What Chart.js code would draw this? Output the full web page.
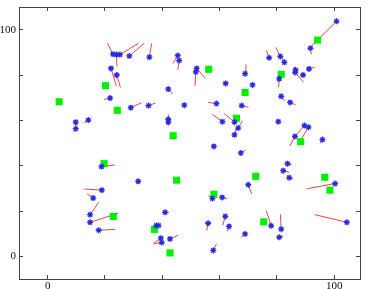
<!DOCTYPE html>
<html>
<head>
<meta charset="utf-8">
<script src="https://cdn.jsdelivr.net/npm/chart.js@4/dist/chart.umd.min.js"></script>
<style>
  html, body { margin: 0; padding: 0; background: #fff; }
  canvas { display: block; }
</style>
</head>
<body>
<canvas id="chart" width="369" height="289"></canvas>
<script>
// blue points (start of each red segment)
const ptX = [22.8, 24.0, 25.2, 28.5, 35.5, 22.1, 24.1, 21.8, 29.0, 35.2, 42.1, 47.7, 42.1, 42.1, 45.4, 45.9,
  9.8, 9.8, 14.2, 100.8, 91.7, 77.3, 81.2, 82.6, 86.5, 86.4, 89.1, 91.2, 52.0, 51.7, 68.9, 62.1, 71.5,
  80.8, 81.5, 84.6, 80.5, 58.9, 67.7, 61.0, 65.2, 66.5, 65.2, 89.6, 91.0, 86.3, 95.9, 58.0, 67.4, 83.7,
  82.2, 84.3, 70.0, 57.5, 60.9, 100.3, 62.0, 56.0, 63.3, 68.9, 78.0, 81.5, 80.8, 104.4, 57.8, 18.8, 31.6,
  18.9, 15.9, 14.8, 14.8, 17.8, 41.0, 37.9, 38.7, 39.5, 39.8, 42.7];
const ptY = [89.2, 89.0, 89.0, 88.4, 87.9, 82.9, 80.0, 69.8, 65.6, 66.5, 73.8, 66.7, 60.4, 59.2, 88.6, 86.4,
  59.2, 56.3, 60.1, 103.7, 91.8, 87.6, 88.2, 85.6, 82.2, 81.1, 80.0, 82.7, 82.9, 81.4, 80.6, 76.3, 75.6,
  78.3, 70.6, 67.9, 59.4, 67.4, 66.5, 59.4, 59.2, 56.6, 53.6, 57.7, 57.0, 52.9, 51.5, 48.5, 45.6, 40.9,
  37.8, 34.7, 31.6, 25.5, 26.0, 32.1, 17.6, 14.6, 13.2, 9.9, 13.5, 12.0, 8.4, 15.0, 2.6, 39.6, 33.1,
  29.2, 25.7, 18.4, 15.0, 11.5, 19.4, 13.6, 13.6, 8.0, 6.1, 7.7];
// other end of each red segment
const endX = [20.9, 24.2, 31.6, 33.7, 36.3, 24.0, 25.4, 19.6, 32.8, 37.6, 43.6, 47.7, 42.1, 42.1, 43.8, 45.4,
  9.8, 8.9, 12.7, 91.5, 92.0, 76.3, 79.6, 81.6, 86.0, 89.3, 89.1, 93.2, 55.1, 51.4, 69.2, 62.1, 71.5,
  80.6, 82.8, 86.5, 80.5, 56.0, 70.1, 57.5, 61.6, 68.0, 65.9, 86.6, 88.0, 84.5, 95.1, 58.0, 69.1, 85.1,
  84.3, 85.6, 71.2, 56.0, 62.6, 90.4, 61.1, 55.5, 62.6, 67.5, 76.3, 81.2, 82.2, 93.2, 58.9, 23.5, 31.4,
  12.8, 13.8, 17.8, 24.6, 23.5, 42.3, 36.9, 38.7, 37.2, 36.9, 45.6];
const endY = [94.0, 83.7, 93.9, 94.0, 94.0, 75.1, 74.5, 69.2, 67.8, 67.6, 71.6, 66.7, 62.6, 57.9, 85.1, 82.2,
  57.5, 55.0, 59.0, 92.1, 89.1, 90.9, 92.2, 87.9, 83.6, 76.8, 80.0, 83.4, 78.4, 75.1, 84.7, 76.3, 75.6,
  74.6, 68.6, 66.9, 59.4, 67.9, 65.8, 62.6, 63.0, 59.8, 56.7, 53.3, 50.6, 48.7, 49.8, 48.5, 46.9, 40.4,
  37.1, 34.1, 27.5, 26.8, 25.5, 29.8, 13.7, 11.4, 11.0, 8.4, 20.1, 18.5, 8.9, 18.4, 5.5, 40.3, 31.9,
  29.7, 27.5, 23.8, 19.0, 11.9, 19.4, 11.2, 13.6, 5.9, 5.5, 9.3];
// green squares
const sqX = [4.0, 20.2, 24.3, 43.8, 56.2, 68.9, 65.9, 81.5, 94.2, 88.3, 72.6, 58.0, 96.7, 98.5, 75.4,
  19.7, 45.0, 22.9, 37.3, 42.7];
const sqY = [68.2, 75.3, 64.4, 53.2, 82.5, 72.3, 60.9, 80.3, 95.4, 50.6, 35.3, 27.4, 34.9, 29.2, 15.2,
  40.9, 33.6, 17.6, 11.9, 1.5];

const tickValues = [0, 20, 40, 60, 80, 100];
const tickLabels = [0, 100];

const axisColor = '#444';
const font = { family: 'Liberation Serif', size: 11 };

const segments = [];
ptX.forEach((x, i) => {
    segments.push({ x: x, y: ptY[i] });
    segments.push({ x: endX[i], y: endY[i] });
    segments.push({ x: null, y: null });
});

function axis(pos, showLabels, size) {
    const horiz = pos === 'top' || pos === 'bottom';
    return {
        type: 'linear',
        position: pos,
        min: -10,
        max: horiz ? 109 : 110,
        afterBuildTicks: s => { s.ticks = tickValues.map(v => ({ value: v })); },
        afterFit: s => {
            if (horiz) s.height = size; else s.width = size;
            // labels sit well inside the range, so no extra room is needed at the ends
            s.paddingTop = s.paddingBottom = s.paddingLeft = s.paddingRight = 0;
        },
        border: { display: true, color: axisColor, width: 1 },
        grid: { drawOnChartArea: false, drawTicks: true, tickLength: -4, color: axisColor },
        ticks: {
            display: showLabels,
            autoSkip: false,
            maxRotation: 0,
            padding: horiz ? 5 : 7,
            color: '#111',
            font: font,
            callback: v => tickLabels.includes(v) ? String(v) : ''
        }
    };
}

new Chart(document.getElementById('chart'), {
    type: 'scatter',
    data: {
        datasets: [
            {
                data: ptX.map((x, i) => ({ x: x, y: ptY[i] })),
                pointStyle: 'star',
                pointRadius: 3,
                borderWidth: 1.3,
                borderColor: '#2a2ae0',
                backgroundColor: '#2a2ae0',
                order: 0
            },
            {
                data: sqX.map((x, i) => ({ x: x, y: sqY[i] })),
                pointStyle: 'rect',
                pointRadius: 5,
                borderWidth: 0,
                backgroundColor: '#00f000',
                order: 1
            },
            {
                data: segments,
                showLine: true,
                spanGaps: false,
                pointRadius: 0,
                borderColor: '#ee4444',
                borderWidth: 1,
                order: 2
            }
        ]
    },
    options: {
        responsive: false,
        devicePixelRatio: 1,
        animation: false,
        layout: { padding: 0 },
        plugins: { legend: { display: false }, tooltip: { enabled: false } },
        scales: {
            x: axis('bottom', true, 10),
            x2: axis('top', false, 7),
            y: axis('left', true, 19),
            y2: axis('right', false, 9)
        }
    }
});
</script>
</body>
</html>
